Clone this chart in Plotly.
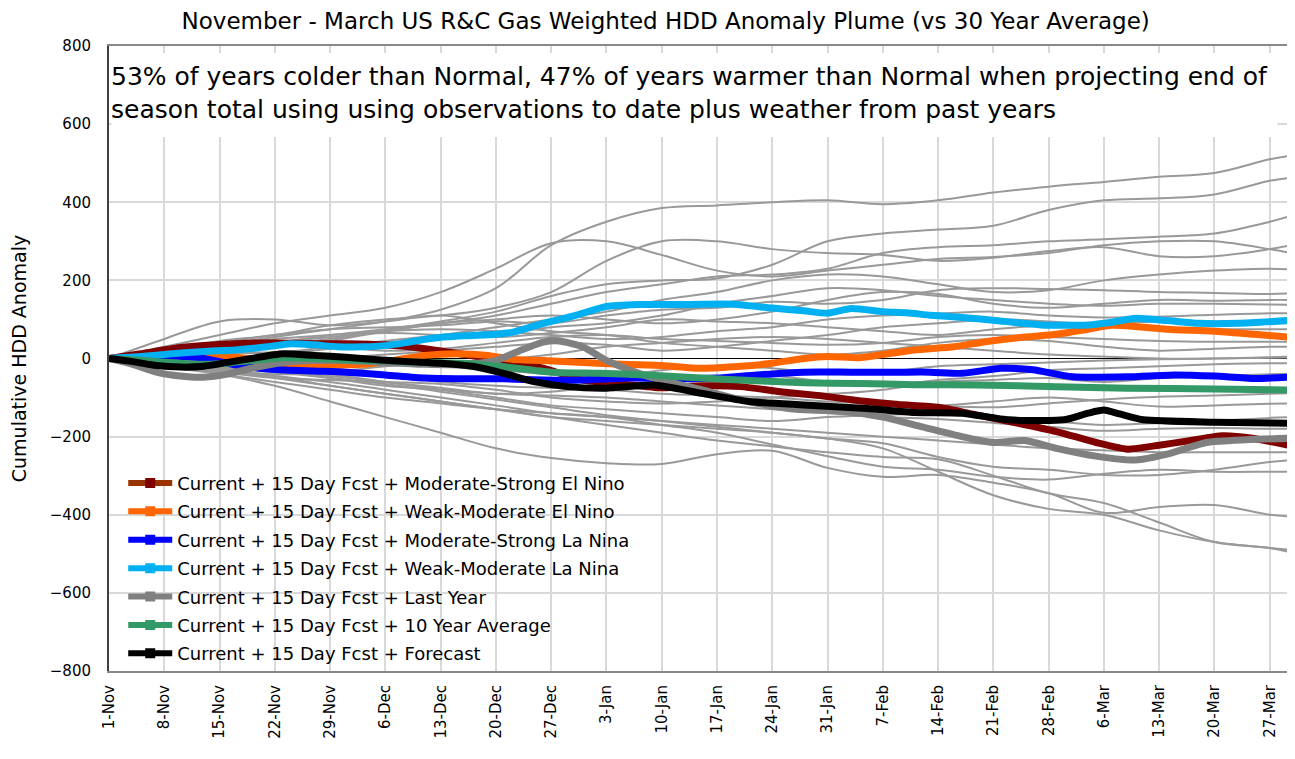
import plotly.graph_objects as go

# ---------------- data ----------------
tick_days = [0, 7, 14, 21, 28, 35, 42, 49, 56, 63, 70, 77, 84, 91, 98, 105, 112, 119, 126, 133, 140, 147]
tick_labels = ["1-Nov", "8-Nov", "15-Nov", "22-Nov", "29-Nov", "6-Dec", "13-Dec", "20-Dec", "27-Dec",
               "3-Jan", "10-Jan", "17-Jan", "24-Jan", "31-Jan", "7-Feb", "14-Feb", "21-Feb", "28-Feb",
               "6-Mar", "13-Mar", "20-Mar", "27-Mar"]

# historical years (weekly readings)
hist_days = [0, 7, 14, 21, 28, 35, 42, 49, 56, 63, 70, 77, 84, 91, 98, 105, 112, 119, 126, 133, 140, 147, 150]
hist_years = [
    [0, 15, 35, 55, 75, 95, 125, 180, 290, 350, 385, 392, 400, 405, 395, 405, 425, 440, 452, 465, 475, 510, 520],
    [0, 10, 25, 40, 60, 75, 95, 120, 160, 190, 200, 205, 240, 300, 320, 330, 340, 380, 405, 410, 420, 455, 463],
    [0, 5, 20, 35, 50, 70, 90, 110, 140, 170, 190, 210, 215, 230, 270, 285, 290, 300, 305, 312, 320, 350, 367],
    [0, 20, 45, 60, 85, 100, 110, 130, 170, 250, 300, 300, 280, 270, 265, 250, 258, 275, 285, 262, 262, 280, 291],
    [0, 30, 60, 90, 110, 130, 170, 230, 295, 300, 265, 225, 210, 225, 240, 255, 260, 270, 290, 300, 300, 280, 269],
    [0, 10, 20, 15, 30, 45, 60, 80, 100, 120, 150, 170, 200, 215, 210, 190, 170, 175, 200, 215, 225, 230, 227],
    [0, 20, 40, 60, 75, 80, 85, 95, 90, 110, 125, 130, 145, 140, 150, 175, 180, 178, 175, 170, 168, 165, 167],
    [0, 5, 10, 30, 45, 70, 90, 100, 110, 100, 90, 100, 120, 150, 170, 165, 140, 130, 140, 150, 148, 150, 150],
    [0, -10, -5, 10, 25, 40, 50, 60, 80, 90, 110, 140, 160, 180, 175, 160, 150, 140, 135, 140, 140, 138, 137],
    [0, 15, 30, 50, 60, 70, 75, 70, 60, 50, 55, 70, 80, 100, 110, 115, 120, 110, 105, 107, 112, 116, 116],
    [0, 10, 25, 40, 55, 65, 60, 55, 65, 80, 100, 95, 90, 80, 70, 60, 75, 85, 90, 95, 95, 95, 95],
    [0, -5, -15, -10, 0, 10, 20, 30, 40, 35, 20, 30, 45, 60, 80, 90, 100, 95, 85, 80, 75, 75, 75],
    [0, 20, 30, 35, 30, 20, 25, 40, 55, 60, 50, 45, 40, 35, 40, 55, 60, 55, 50, 45, 43, 43, 43],
    [0, -15, -30, -40, -35, -20, -10, -5, 10, 30, 40, 50, 55, 50, 40, 30, 20, 10, 5, 0, 0, 3, 5],
    [0, 5, 0, -10, -25, -40, -50, -55, -60, -50, -30, -20, -25, -40, -35, -20, -15, -10, -5, -2, 0, 2, 3],
    [0, -10, -20, -25, -40, -60, -75, -90, -85, -70, -60, -50, -45, -60, -70, -55, -45, -30, -25, -20, -15, -12, -12],
    [0, 5, 10, 15, 5, -5, -20, -30, -40, -45, -50, -60, -80, -90, -80, -60, -55, -50, -60, -50, -45, -40, -40],
    [0, -20, -35, -50, -55, -60, -65, -80, -100, -110, -115, -110, -100, -95, -110, -120, -125, -115, -105, -98, -95, -90, -89],
    [0, 0, -10, -20, -30, -45, -60, -70, -75, -80, -90, -95, -100, -110, -115, -120, -110, -100, -110, -123, -120, -116, -115],
    [0, -15, -25, -30, -45, -60, -80, -100, -120, -130, -140, -150, -160, -150, -145, -140, -150, -160, -170, -165, -160, -152, -150],
    [0, -5, -15, -30, -50, -70, -80, -90, -95, -100, -110, -120, -130, -140, -150, -155, -165, -175, -185, -180, -178, -180, -180],
    [0, -10, -30, -45, -60, -80, -100, -120, -140, -150, -160, -170, -180, -190, -200, -210, -220, -230, -235, -240, -240, -240, -240],
    [0, -15, -30, -50, -70, -90, -110, -130, -150, -160, -170, -180, -190, -205, -217, -252, -277, -285, -298, -298, -285, -265, -260],
    [0, -20, -40, -60, -80, -100, -115, -130, -140, -150, -170, -190, -220, -250, -277, -285, -303, -310, -295, -285, -290, -290, -290],
    [0, -15, -40, -70, -110, -150, -190, -230, -255, -268, -270, -245, -236, -280, -303, -298, -318, -345, -395, -380, -375, -400, -405],
    [0, -10, -25, -45, -70, -90, -110, -130, -150, -170, -190, -210, -225, -240, -252, -258, -300, -345, -370, -420, -470, -485, -498],
    [0, -5, -20, -35, -50, -65, -85, -105, -125, -145, -160, -175, -190, -205, -230, -290, -350, -385, -400, -440, -470, -485, -490],
    [0, 50, 95, 100, 85, 95, 110, 90, 70, 60, 40, 30, 20, 10, 20, 40, 50, 45, 30, 20, 25, 30, 30],
]

# highlighted scenarios
ms_elnino_days = [0, 4, 8, 12, 16, 21, 26, 30, 35, 40, 45, 50, 55, 60, 65, 70, 75, 80, 85, 90, 95, 100, 105, 110, 115, 120, 125, 129, 133, 137, 141, 145, 150]
ms_elnino_vals = [0, 12, 25, 33, 38, 40, 38, 38, 35, 25, 10, -5, -25, -55, -65, -75, -70, -72, -85, -95, -108, -118, -125, -145, -165, -187, -215, -232, -222, -210, -198, -205, -225]

wm_elnino_days = [0, 4, 8, 12, 16, 19, 22, 27, 32, 36, 40, 44, 48, 51, 55, 60, 65, 70, 75, 80, 84, 88, 91, 95, 98, 102, 107, 111, 116, 120, 124, 127, 130, 134, 140, 145, 150]
wm_elnino_vals = [0, 3, 6, 8, 3, -5, -15, -17, -15, -5, 8, 12, 8, -2, -5, -10, -15, -18, -25, -20, -12, 0, 5, 2, 10, 22, 30, 43, 55, 62, 75, 85, 82, 75, 70, 62, 54]

ms_lanina_days = [0, 4, 8, 11, 14, 17, 21, 26, 30, 35, 40, 45, 50, 55, 60, 66, 72, 77, 82, 88, 94, 100, 104, 108, 113, 117, 122, 129, 135, 140, 145, 150]
ms_lanina_vals = [0, 3, 6, 3, -8, -20, -28, -32, -35, -42, -50, -52, -52, -55, -55, -50, -52, -50, -42, -35, -35, -35, -35, -38, -25, -29, -47, -47, -42, -45, -51, -47]

wm_lanina_days = [0, 4, 8, 12, 16, 20, 23, 26, 29, 32, 35, 38, 41, 45, 49, 51, 55, 59, 63, 67, 72, 79, 84, 88, 91, 94, 98, 101, 104, 108, 112, 118, 124, 127, 130, 134, 138, 143, 150]
wm_lanina_vals = [0, 5, 12, 18, 22, 30, 38, 35, 30, 30, 33, 42, 52, 58, 62, 67, 90, 110, 133, 138, 138, 139, 129, 122, 116, 128, 120, 117, 111, 105, 98, 86, 86, 93, 103, 97, 90, 90, 98]

last_year_days = [0, 3, 6, 9, 12, 15, 18, 22, 26, 30, 35, 40, 45, 49, 52, 55, 57, 60, 63, 66, 69, 75, 81, 87, 93, 98, 103, 108, 112, 116, 120, 125, 130, 134, 139, 144, 150]
last_year_vals = [0, -15, -35, -45, -48, -40, -25, -10, -5, -5, -10, -15, -15, -5, 20, 42, 45, 30, -5, -30, -50, -80, -110, -130, -135, -150, -175, -200, -215, -210, -230, -250, -260, -245, -215, -208, -204]

ten_year_days = [0, 3, 6, 9, 12, 15, 18, 22, 26, 30, 35, 40, 45, 50, 56, 62, 68, 75, 82, 88, 95, 102, 110, 120, 129, 140, 150]
ten_year_vals = [0, -3, -8, -12, -15, -12, -5, 2, 0, -3, -6, -10, -12, -21, -35, -38, -42, -50, -57, -62, -64, -67, -68, -72, -76, -78, -81]

forecast_days = [0, 3, 6, 9, 12, 15, 18, 22, 26, 30, 34, 38, 42, 46, 50, 54, 58, 63, 69, 75, 81, 88, 96, 102, 108, 114, 121, 124, 126, 128, 131, 140, 150]
forecast_vals = [0, -8, -18, -22, -20, -10, 0, 12, 8, 3, -3, -8, -12, -20, -38, -60, -72, -76, -68, -89, -110, -119, -128, -138, -140, -157, -157, -140, -132, -142, -157, -163, -166]

scenarios = [
    ("Current + 15 Day Fcst + Moderate-Strong El Nino", ms_elnino_days, ms_elnino_vals, "#800000", "#993300", "#800000"),
    ("Current + 15 Day Fcst + Weak-Moderate El Nino", wm_elnino_days, wm_elnino_vals, "#FF6600", "#FF6600", "#FF6600"),
    ("Current + 15 Day Fcst + Moderate-Strong La Nina", ms_lanina_days, ms_lanina_vals, "#0000FF", "#0000FF", "#0000FF"),
    ("Current + 15 Day Fcst + Weak-Moderate La Nina", wm_lanina_days, wm_lanina_vals, "#00B0F0", "#00B0F0", "#00B0F0"),
    ("Current + 15 Day Fcst + Last Year", last_year_days, last_year_vals, "#808080", "#808080", "#808080"),
    ("Current + 15 Day Fcst + 10 Year Average", ten_year_days, ten_year_vals, "#339966", "#339966", "#339966"),
    ("Current + 15 Day Fcst + Forecast", forecast_days, forecast_vals, "#000000", "#000000", "#000000"),
]

title_text = "November - March US R&C Gas Weighted HDD Anomaly Plume (vs 30 Year Average)"
note_text = ("53% of years colder than Normal, 47% of years warmer than Normal when projecting end of<br>"
             "season total using using observations to date plus weather from past years")
y_title = "Cumulative HDD Anomaly"

FONT = "DejaVu Sans, Arial, sans-serif"

# ---------------- figure ----------------
fig = go.Figure()

for vals in hist_years:
    fig.add_trace(go.Scatter(x=hist_days, y=vals, mode="lines",
                             line=dict(color="#999999", width=2, shape="spline", smoothing=1.0),
                             showlegend=False, hoverinfo="skip"))

for name, d, v, col, lcol, mcol in scenarios:
    fig.add_trace(go.Scatter(x=d, y=v, mode="lines",
                             line=dict(color=col, width=7, shape="spline", smoothing=0.6),
                             showlegend=False, name=name))

for i, (name, d, v, col, lcol, mcol) in enumerate(scenarios):
    fig.add_trace(go.Scatter(x=[None], y=[None], mode="lines+markers", name=name,
                             legendgroup="g%d" % i,
                             line=dict(color=lcol, width=6),
                             marker=dict(color=mcol, size=10, symbol="square"),
                             showlegend=True))

# page body has an 8px margin, so the figure is sized/offset to land on the reference pixels
fig.update_layout(
    width=1287, height=751,
    margin=dict(l=89, r=0, t=38, b=88),
    paper_bgcolor="white", plot_bgcolor="white",
    font=dict(family=FONT, color="#000000", size=15),
    title=dict(text=title_text, x=0.511, xref="container", xanchor="center",
               y=0.983, yref="container", yanchor="middle",
               font=dict(size=23, color="#000000", family=FONT)),
    showlegend=True,
    legend=dict(x=0.012, y=0.33, xanchor="left", yanchor="top",
                bgcolor="rgba(0,0,0,0)", font=dict(size=18, family=FONT),
                tracegroupgap=2, itemwidth=44),
    xaxis=dict(range=[0, 150.2], tickvals=tick_days, ticktext=tick_labels, tickangle=-90,
               showgrid=True, gridcolor="#D9D9D9", gridwidth=1.5,
               showline=True, linecolor="#888888", linewidth=2, mirror=True,
               ticks="", ticklabelstandoff=6, tickfont=dict(size=15, family=FONT), zeroline=False),
    yaxis=dict(range=[-800, 800], dtick=200, tick0=0,
               showgrid=True, gridcolor="#D9D9D9", gridwidth=1.5,
               zeroline=True, zerolinecolor="#000000", zerolinewidth=1,
               showline=True, linecolor="#404040", linewidth=2,
               ticks="", ticklabelstandoff=13, tickfont=dict(size=15, family=FONT),
               title=dict(text=y_title, standoff=28, font=dict(size=19, family=FONT))),
    shapes=[dict(type="rect", xref="paper", yref="paper", x0=0.002, x1=0.985,
                 y0=0.8544, y1=0.9888, fillcolor="white", line=dict(width=0), layer="above")],
    annotations=[dict(text=note_text, xref="paper", yref="paper", x=-0.0058, y=0.9888,
                      xanchor="left", yanchor="top", align="left", showarrow=False,
                      bgcolor="rgba(0,0,0,0)", font=dict(size=25, color="#000000", family=FONT),
                      borderpad=8)],
)

fig.write_html("out.html")
